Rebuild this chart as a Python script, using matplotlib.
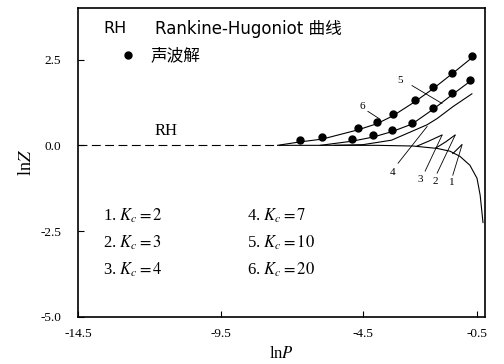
import matplotlib
matplotlib.use("Agg")
import matplotlib.pyplot as plt

# ---- data ----
# Rankine-Hugoniot curve (dashed part, then solid part bending down)
rh_dash_x = [-14.5, -7.4]
rh_dash_y = [0.0, 0.0]
rh_x = [-7.4, -4.0, -2.75, -1.9, -1.45, -1.1, -0.75, -0.5, -0.39, -0.29]
rh_y = [0.0, 0.0, -0.02, -0.09, -0.17, -0.32, -0.58, -0.96, -1.45, -2.25]

# curves for different K_c
k1_x = [-1.35, -1.2, -1.03]
k1_y = [-0.24, -0.12, 0.02]
k2_x = [-1.95, -1.6, -1.27]
k2_y = [-0.08, 0.1, 0.3]
k3_x = [-2.6, -2.2, -1.73]
k3_y = [-0.02, 0.12, 0.3]
k4_x = [-5.5, -4.5, -3.5, -2.75, -2.25, -1.9, -1.34, -0.68]
k4_y = [0.0, 0.02, 0.15, 0.42, 0.6, 0.78, 1.13, 1.5]
k5_x = [-6.0, -4.89, -4.15, -3.48, -2.78, -2.04, -1.38, -0.75]
k5_y = [0.0, 0.12, 0.24, 0.4, 0.62, 1.05, 1.47, 1.86]
k6_x = [-7.5, -6.71, -5.94, -4.68, -4.01, -3.45, -2.68, -2.04, -1.38, -0.68]
k6_y = [0.0, 0.1, 0.18, 0.45, 0.63, 0.86, 1.27, 1.65, 2.08, 2.55]

# acoustic solution points
dot_x = [-6.71, -5.94, -4.68, -4.01, -3.45, -2.68, -2.04, -1.38, -0.68,
         -4.89, -4.15, -3.48, -2.78, -2.04, -1.38, -0.75]
dot_y = [0.15, 0.23, 0.5, 0.67, 0.9, 1.31, 1.69, 2.12, 2.59,
         0.17, 0.29, 0.44, 0.64, 1.1, 1.51, 1.89]

x_ticks = [-14.5, -9.5, -4.5, -0.5]
x_tick_labels = ["-14.5", "-9.5", "-4.5", "-0.5"]
y_ticks = [2.5, 0.0, -2.5, -5.0]
y_tick_labels = ["2.5", "0.0", "-2.5", "-5.0"]

kc_labels = ["1. $K_c = 2$", "2. $K_c = 3$", "3. $K_c = 4$",
             "4. $K_c = 7$", "5. $K_c = 10$", "6. $K_c = 20$"]


def generate_chart():
    plt.rcParams['mathtext.fontset'] = 'stix'
    serif = ['Liberation Serif', 'DejaVu Serif']
    sans_cjk = ['DejaVu Sans', 'Noto Sans CJK SC']

    fig = plt.figure(figsize=(5.04, 3.64), dpi=100)
    ax = fig.add_axes([78 / 504, 1 - 317 / 364, (485 - 78) / 504, (317 - 8) / 364])

    lw = 0.8
    ax.plot(rh_dash_x, rh_dash_y, color='black', lw=lw, linestyle=(0, (8, 4)))
    ax.plot(rh_x, rh_y, color='black', lw=lw)
    for cx, cy in [(k1_x, k1_y), (k2_x, k2_y), (k3_x, k3_y),
                   (k4_x, k4_y), (k5_x, k5_y), (k6_x, k6_y)]:
        ax.plot(cx, cy, color='black', lw=lw)
    ax.plot(dot_x, dot_y, 'o', color='black', ms=5, linestyle='none')

    # curve labels with pointer lines
    pointers = [
        ("1", (-1.38, -1.08), (-1.35, -0.87), (-1.03, 0.0)),
        ("2", (-1.97, -1.05), (-1.90, -0.81), (-1.27, 0.29)),
        ("3", (-2.50, -1.0), (-2.32, -0.75), (-1.73, 0.29)),
        ("4", (-3.45, -0.78), (-3.27, -0.52), (-2.25, 0.55)),
        ("5", (-3.20, 1.89), (-2.78, 1.74), (-1.73, 1.22)),
        ("6", (-4.53, 1.13), (-4.33, 0.99), (-3.9, 0.76)),
    ]
    for txt, pos, p0, p1 in pointers:
        ax.text(pos[0], pos[1], txt, fontsize=8, family=serif, ha='center', va='center')
        ax.plot([p0[0], p1[0]], [p0[1], p1[1]], color='black', lw=0.6)

    ax.text(-11.4, 0.42, "RH", fontsize=12, family=serif, ha='center', va='center')

    # legend written inside the plot
    ax.text(-13.6, 3.4, "RH", fontsize=11.5, family=sans_cjk, va='center')
    ax.text(-11.8, 3.4, "Rankine-Hugoniot 曲线", fontsize=12, family=sans_cjk, va='center')
    ax.plot([-12.76], [2.62], 'o', color='black', ms=5)
    ax.text(-11.97, 2.62, "声波解", fontsize=12, family=sans_cjk, va='center')

    rows_y = [-2.06, -2.85, -3.63]
    for i, lab in enumerate(kc_labels):
        col_x = -13.62 if i < 3 else -8.57
        ax.text(col_x, rows_y[i % 3], lab, fontsize=12, family=serif, va='center')

    ax.set_xlim(-14.5, -0.22)
    ax.set_ylim(-5.0, 4.0)
    ax.set_xticks(x_ticks)
    ax.set_xticklabels(x_tick_labels, family=serif, fontsize=9.5)
    ax.set_yticks(y_ticks)
    ax.set_yticklabels(y_tick_labels, family=serif, fontsize=9.5)
    ax.tick_params(direction='in', length=4, width=0.8, pad=8)
    ax.tick_params(axis='y', pad=12)
    for s in ax.spines.values():
        s.set_linewidth(1.2)

    ax.set_xlabel("ln$P$", fontsize=12, family=serif, labelpad=4)
    ax.set_ylabel("ln$Z$", fontsize=13, family=serif, labelpad=4)

    fig.savefig("out.png", dpi=100)


if __name__ == "__main__":
    generate_chart()
